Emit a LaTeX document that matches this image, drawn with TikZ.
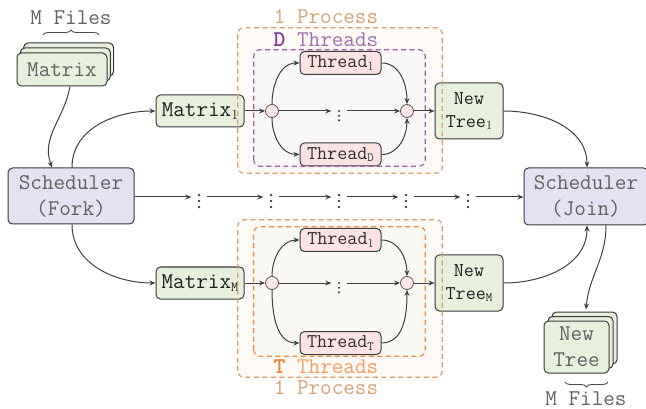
\documentclass[tikz,border=0pt]{standalone}
\usetikzlibrary{arrows.meta,calc,shadows,decorations.pathreplacing}
\definecolor{gfill}{HTML}{E6F0DC}
\definecolor{sfill}{HTML}{E4E2F2}
\definecolor{tfill}{HTML}{FBE3E3}
\definecolor{cfill}{HTML}{FCE6E6}
\definecolor{edge}{HTML}{3A3A3A}
\definecolor{proc}{HTML}{D9A069}
\definecolor{proctext}{HTML}{D4A374}
\definecolor{purp}{HTML}{A55AB2}
\definecolor{purptext}{HTML}{A070AE}
\definecolor{purpdark}{HTML}{7E3A8E}
\definecolor{orng}{HTML}{F08C3C}
\definecolor{orngtext}{HTML}{F2A060}
\definecolor{orngdark}{HTML}{EE7F2A}
\definecolor{pfill}{HTML}{FDFAF6}
\definecolor{ifillp}{HTML}{FAF7FA}
\definecolor{ifillo}{HTML}{FBF9F4}
\newcommand\bigtt{\fontsize{22.5}{26}\selectfont\ttfamily}
\newcommand\smalltt{\fontsize{19.5}{23}\selectfont\ttfamily}
\newcommand\bsub[1]{\raisebox{-2.5pt}{\fontsize{14}{14}\selectfont #1}}
\newcommand\ssub[1]{\raisebox{-2.5pt}{\fontsize{12.5}{13}\selectfont #1}}
\begin{document}
\begin{tikzpicture}[x=1pt,y=1pt,
  box/.style={draw=edge, line width=1pt, rounded corners=4.5pt, inner sep=0pt, align=center},
  greenbox/.style={box, fill=gfill},
  schedbox/.style={box, fill=sfill, minimum width=126pt, minimum height=56pt, font=\bigtt, text=black!62},
  threadbox/.style={box, fill=tfill, minimum width=81pt, minimum height=23pt, font=\smalltt, text=black!82},
  mbox/.style={greenbox, minimum width=88pt, minimum height=32pt, font=\bigtt, text=black!88},
  ntbox/.style={greenbox, minimum width=68pt, minimum height=56pt, font=\smalltt, text=black!88},
  stackbox/.style={greenbox, font=\bigtt, text=black!62},
  joint/.style={circle, draw=edge!85, fill=cfill, line width=0.8pt, minimum size=13pt, inner sep=0pt},
  conn/.style={draw=black!75, line width=1pt},
  arr/.style={conn, -{Stealth[length=6pt,width=5pt]}},
  bigdots/.style={minimum width=15pt, minimum height=30pt, inner sep=0pt,
    path picture={\fill[black!75] ([yshift=2pt]path picture bounding box.center) circle (1.3pt)
      ([yshift=-4pt]path picture bounding box.center) circle (1.3pt)
      ([yshift=-10pt]path picture bounding box.center) circle (1.3pt);}},
  smalldots/.style={minimum width=15pt, minimum height=26pt, inner sep=0pt,
    path picture={\fill[black!75] ([yshift=0pt]path picture bounding box.center) circle (1.2pt)
      ([yshift=-4.7pt]path picture bounding box.center) circle (1.2pt)
      ([yshift=-9.4pt]path picture bounding box.center) circle (1.2pt);}},
  fillonly/.style={rounded corners=6pt, inner sep=0pt, draw=none},
  dashline/.style={line width=1.2pt, dash pattern=on 5pt off 3.5pt, rounded corners=6pt},
  lbl/.style={inner sep=0pt, font=\bigtt}
]
\useasboundingbox (0,0) rectangle (646,-409);

% box fills
\node[fillonly, fill=pfill, minimum width=204pt, minimum height=145pt] (po1) at (340,-100.5) {};
\node[fillonly, fill=ifillp, minimum width=171pt, minimum height=116pt] (pi1) at (339.5,-108) {};
\node[fillonly, fill=pfill, minimum width=204pt, minimum height=157pt] (po2) at (340,-298.5) {};
\node[fillonly, fill=ifillo, minimum width=171pt, minimum height=129pt] (pi2) at (339.5,-291.5) {};

% labels
\node[lbl, text=black!62] (mf1) at (71,-18) {M Files};
\node[lbl, text=proctext] (pl1) at (326,-17) {1 Process};
\node[lbl, text=purptext] (dl1) at (326,-40) {\textcolor{purpdark}{\textbf{D}} Threads};
\node[lbl, text=orngtext] (tl2) at (326,-367) {\textcolor{orngdark}{\textbf{T}} Threads};
\node[lbl, text=proctext] (pl2) at (326,-388) {1 Process};
\node[lbl, text=black!62] (mf2) at (586,-398.5) {M Files};

% braces
\draw[black!70, line width=0.9pt, decorate, decoration={brace, amplitude=5pt}] (43,-35) -- (99,-35);
\draw[black!70, line width=0.9pt, decorate, decoration={brace, amplitude=5pt}] (608,-382) -- (565,-382);

% stacks
\node[stackbox, minimum width=90pt, minimum height=33pt, double copy shadow={shadow xshift=3.3pt, shadow yshift=5pt}] (mstack) at (62,-69.5) {Matrix};
\node[stackbox, minimum width=65pt, minimum height=52pt, double copy shadow={shadow xshift=4pt, shadow yshift=4.5pt}] (ntstack) at (576.5,-347) {New\\Tree};

% schedulers
\node[schedbox] (fork) at (71,-196) {Scheduler\\(Fork)};
\node[schedbox, minimum width=124pt, minimum height=57pt] (join) at (586,-196.5) {Scheduler\\(Join)};

% matrices and new trees
\node[mbox] (m1) at (200,-111) {Matrix\bsub{\rmfamily 1}};
\node[mbox] (mM) at (200,-283) {Matrix\bsub{M}};
\node[ntbox] (nt1) at (469,-111) {New\\Tree\ssub{\rmfamily 1}};
\node[ntbox] (ntM) at (469,-283) {New\\Tree\ssub{M}};

% threads
\node[threadbox] (t1) at (340.5,-63) {Thread\ssub{\rmfamily 1}};
\node[threadbox] (tD) at (340.5,-154.5) {Thread\ssub{D}};
\node[threadbox] (u1) at (340.5,-240) {Thread\ssub{\rmfamily 1}};
\node[threadbox] (uT) at (340.5,-343) {Thread\ssub{T}};

% joints
\node[joint] (pc1) at (272,-111) {};
\node[joint] (pj1) at (407,-111) {};
\node[joint] (pc2) at (272,-283) {};
\node[joint] (pj2) at (407,-283) {};

% dots
\node[smalldots] (dp1) at (339,-111) {};
\node[smalldots] (dp2) at (339,-283) {};
\node[bigdots] (d1) at (199,-197) {};
\node[bigdots] (d2) at (271,-197) {};
\node[bigdots] (d3) at (339,-197) {};
\node[bigdots] (d4) at (406,-197) {};
\node[bigdots] (d5) at (468,-197) {};

% connectors
\draw[arr] ($(mstack.south)+(8,0)$) to[out=-100,in=110] ($(fork.north)+(-19,0)$);
\draw[arr] ($(fork.north)+(1,0)$) to[out=90,in=180] (m1.west);
\draw[arr] ($(fork.south)+(1,0)$) to[out=-90,in=180] (mM.west);

\draw[arr] (fork.east |- d1.west) -- (d1.west);
\draw[arr] (d1.east) -- (d2.west);
\draw[arr] (d2.east) -- (d3.west);
\draw[arr] (d3.east) -- (d4.west);
\draw[arr] (d4.east) -- (d5.west);
\draw[arr] (d5.east) -- (join.west |- d5.east);

\draw[arr] (m1.east) -- (pc1.west);
\draw[arr] (pc1.north) to[out=90,in=180] (t1.west);
\draw[arr] (pc1.south) to[out=-90,in=180] (tD.west);
\draw[arr] (pc1.east) -- (dp1.west);
\draw[arr] (dp1.east) -- (pj1.west);
\draw[arr] (t1.east) to[out=0,in=90] (pj1.north);
\draw[arr] (tD.east) to[out=0,in=-90] (pj1.south);
\draw[arr] (pj1.east) -- (nt1.west);

\draw[arr] (mM.east) -- (pc2.west);
\draw[arr] (pc2.north) to[out=90,in=180] (u1.west);
\draw[arr] (pc2.south) to[out=-90,in=180] (uT.west);
\draw[arr] (pc2.east) -- (dp2.west);
\draw[arr] (dp2.east) -- (pj2.west);
\draw[arr] (u1.east) to[out=0,in=90] (pj2.north);
\draw[arr] (uT.east) to[out=0,in=-90] (pj2.south);
\draw[arr] (pj2.east) -- (ntM.west);

\draw[arr] (nt1.east) to[out=0,in=90] ($(join.north)+(1,0)$);
\draw[arr] (ntM.east) to[out=0,in=-90] ($(join.south)+(1,0)$);
\draw[arr] ($(join.south)+(20,0)$) to[out=-90,in=85] ($(ntstack.north)+(9.5,11)$);

% dashed outlines on top
\draw[dashline, draw=proc] (po1.south west) rectangle (po1.north east);
\draw[dashline, draw=purp] (pi1.south west) rectangle (pi1.north east);
\draw[dashline, draw=proc] (po2.south west) rectangle (po2.north east);
\draw[dashline, draw=orng] (pi2.south west) rectangle (pi2.north east);
\end{tikzpicture}
\end{document}
